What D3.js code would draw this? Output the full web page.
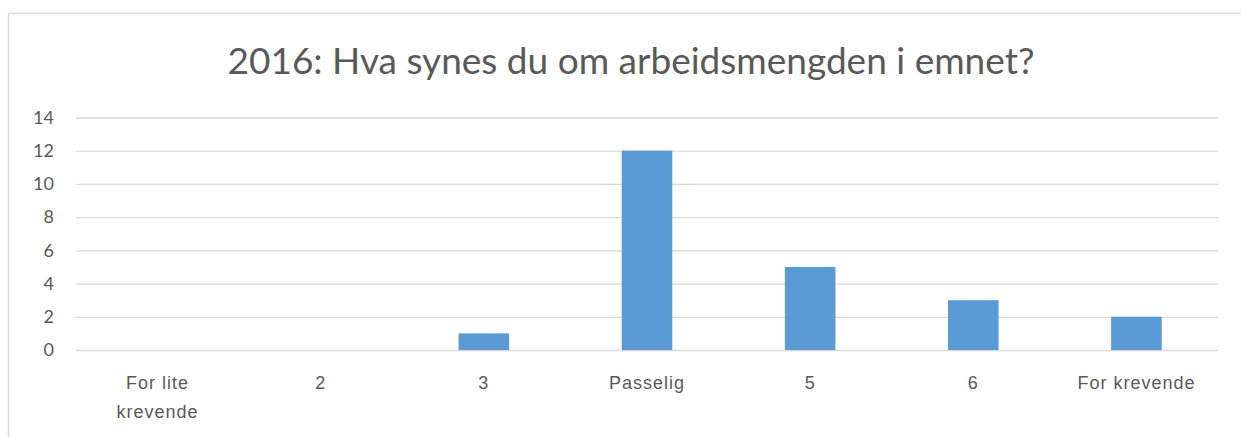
<!DOCTYPE html>
<html><head><meta charset="utf-8">
<script src="https://cdn.jsdelivr.net/npm/d3@7"></script>
<style>
html,body{margin:0;padding:0;background:#fff;}
svg{display:block;font-family:Lato,"Open Sans",sans-serif;}
</style></head>
<body>
<svg id="chart" width="1241" height="437"></svg>
<script>
const title = "2016: Hva synes du om arbeidsmengden i emnet?";
const categories = ["For lite krevende", "2", "3", "Passelig", "5", "6", "For krevende"];
const categoryLines = [["For lite", "krevende"], ["2"], ["3"], ["Passelig"], ["5"], ["6"], ["For krevende"]];
const values = [0, 0, 1, 12, 5, 3, 2];
const yTicks = [0, 2, 4, 6, 8, 10, 12, 14];

const svg = d3.select("#chart");
const W = 1241, H = 437;
const m = {left: 76, right: 1218, top: 117.5, bottom: 350};

svg.append("rect").attr("x", 8.5).attr("y", 13.5).attr("width", W + 10).attr("height", H + 10)
  .attr("fill", "#fff").attr("stroke", "#d9d9d9").attr("stroke-width", 1.5);

const x = d3.scaleBand().domain(categories).range([m.left, m.right]).paddingInner(0.69).paddingOuter(0.345);
const y = d3.scaleLinear().domain([0, 14]).range([m.bottom, m.top]);

// gridlines
const yAxis = d3.axisLeft(y).tickValues(yTicks).tickSize(-(m.right - m.left)).tickPadding(22);
const gy = svg.append("g").attr("transform", `translate(${m.left},0)`).call(yAxis);
gy.select(".domain").remove();
gy.selectAll(".tick line").attr("stroke", "#d9d9d9").attr("stroke-width", 1.3);
gy.selectAll(".tick text").attr("fill", "#595959").style("font-size", "18px").style("font-family", "Lato,'Open Sans',sans-serif");

// bars
svg.append("g").selectAll("rect").data(values).join("rect")
  .attr("x", (d, i) => x(categories[i]))
  .attr("width", x.bandwidth())
  .attr("y", d => y(d))
  .attr("height", d => y(0) - y(d))
  .attr("fill", "#5b9bd5");

// x axis labels
const xAxis = d3.axisBottom(x).tickSize(0).tickFormat("");
const gx = svg.append("g").attr("transform", `translate(0,${m.bottom})`).call(xAxis);
gx.select(".domain").remove();
gx.selectAll(".tick").each(function(d, i) {
  const t = d3.select(this).append("text").attr("fill", "#595959").attr("text-anchor", "middle")
    .style("font-size", "18px").style("letter-spacing", "1px").attr("y", 39);
  categoryLines[i].forEach((s, j) => t.append("tspan").attr("x", 0).attr("dy", j === 0 ? 0 : 29).text(s));
});

svg.append("text").attr("x", 631).attr("y", 74).attr("text-anchor", "middle")
  .attr("fill", "#595959").style("font-size", "37px").text(title);
</script>
</body></html>
